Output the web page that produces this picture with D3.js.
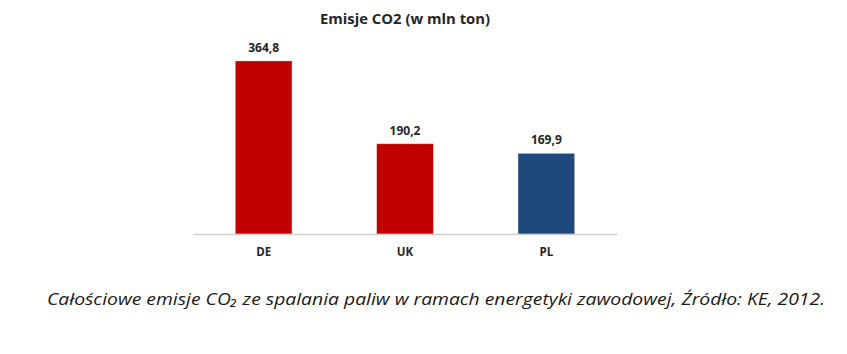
<!DOCTYPE html>
<html>
<head>
<meta charset="utf-8">
<script src="https://cdn.jsdelivr.net/npm/d3@7"></script>
<style>
  body { margin: 0; background: #fff; }
  svg { display: block; }
</style>
</head>
<body>
<div id="chart"></div>
<script>
(function (d3) {
    'use strict';

    var categories = ['DE', 'UK', 'PL'];
    var values = [364.8, 190.2, 169.9];
    var labels = ['364,8', '190,2', '169,9'];
    var colors = ['#C00000', '#C00000', '#1F497D'];
    var title = 'Emisje CO2 (w mln ton)';
    var caption = 'Całościowe emisje CO₂ ze spalania paliw w ramach energetyki zawodowej, Źródło: KE, 2012.';

    var width = 847, height = 354,
        baseY = 234;

    var svg = d3.select('#chart').append('svg')
        .attr('width', width)
        .attr('height', height);

    var x = d3.scaleBand()
        .domain(categories)
        .range([193, 617])
        .paddingInner(0.6)
        .paddingOuter(0.3);

    var y = d3.scaleLinear()
        .domain([0, 364.8])
        .range([baseY, 61]);

    // title
    svg.append('text')
        .attr('x', 405)
        .attr('y', 24)
        .attr('text-anchor', 'middle')
        .attr('font-family', 'Open Sans, sans-serif')
        .attr('font-weight', 'bold')
        .attr('font-size', 14.5)
        .attr('fill', '#262626')
        .attr('textLength', 170)
        .attr('lengthAdjust', 'spacingAndGlyphs')
        .text(title);

    var data = categories.map(function (c, i) {
        return {cat: c, value: values[i], label: labels[i], color: colors[i]};
    });

    svg.selectAll('rect.bar')
        .data(data)
        .enter().append('rect')
        .attr('class', 'bar')
        .attr('x', function (d) { return x(d.cat); })
        .attr('y', function (d) { return y(d.value); })
        .attr('width', x.bandwidth())
        .attr('height', function (d) { return baseY - y(d.value); })
        .attr('fill', function (d) { return d.color; })
        .attr('stroke', '#f2d0d0')
        .attr('stroke-opacity', 0.5)
        .attr('stroke-width', 0.6);

    // axis baseline
    var axis = d3.axisBottom(x).tickSize(0).tickPadding(14);
    var gx = svg.append('g')
        .attr('transform', 'translate(0,' + baseY + ')')
        .call(axis);
    gx.select('.domain')
        .attr('stroke', '#d0d0d0')
        .attr('stroke-width', 1.5);
    gx.selectAll('.tick text')
        .attr('font-family', 'Open Sans, sans-serif')
        .attr('font-weight', 'bold')
        .attr('font-size', 11.5)
        .attr('fill', '#262626');

    // value labels
    svg.selectAll('text.val')
        .data(data)
        .enter().append('text')
        .attr('class', 'val')
        .attr('x', function (d) { return x(d.cat) + x.bandwidth() / 2; })
        .attr('y', function (d) { return y(d.value) - 9; })
        .attr('text-anchor', 'middle')
        .attr('font-family', 'Open Sans, sans-serif')
        .attr('font-weight', 'bold')
        .attr('font-size', 12)
        .attr('fill', '#262626')
        .text(function (d) { return d.label; });

    // caption
    svg.append('text')
        .attr('x', 47)
        .attr('y', 305)
        .attr('font-family', 'Open Sans, sans-serif')
        .attr('font-style', 'italic')
        .attr('font-size', 16.5)
        .attr('fill', '#1a1a1a')
        .attr('textLength', 778)
        .attr('lengthAdjust', 'spacingAndGlyphs')
        .text(caption);
})(d3);
</script>
</body>
</html>
